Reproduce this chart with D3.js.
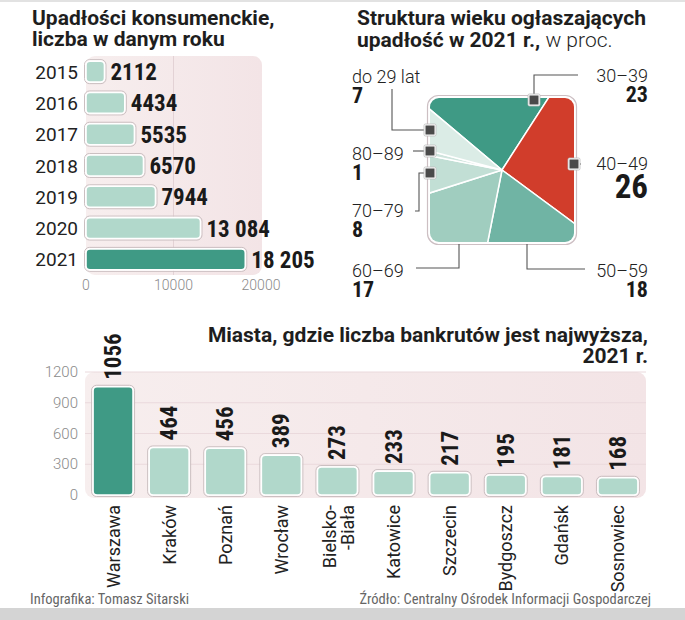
<!DOCTYPE html>
<html>
<head>
<meta charset="utf-8">
<script src="https://cdn.jsdelivr.net/npm/d3@7"></script>
<style>
  html, body { margin: 0; padding: 0; background: #fff; }
  svg { display: block; }
  .title { font-family: Roboto, "Noto Sans", sans-serif; font-weight: 700; font-size: 21px; fill: #1e1e1e; }
  .num { font-family: "Liberation Sans Narrow", "Roboto Condensed", "DejaVu Sans Condensed", sans-serif; font-weight: 700; fill: #1a1a1a; }
  .lab { font-family: Roboto, "Noto Sans", sans-serif; fill: #222; }
  .tick { font-family: Roboto, sans-serif; font-weight: 300; fill: #8a8a8a; }
  .foot { font-family: "Liberation Sans Narrow", "Roboto Condensed", sans-serif; font-size: 14.5px; fill: #666; }
</style>
</head>
<body>
<svg id="chart" width="685" height="620"></svg>
<script>
// ---------- DATA ----------
const years = ["2015", "2016", "2017", "2018", "2019", "2020", "2021"];
const bankruptcies = [2112, 4434, 5535, 6570, 7944, 13084, 18205];
const yearLabels = ["2112", "4434", "5535", "6570", "7944", "13 084", "18 205"];
const xTicksTop = [0, 10000, 20000];

const ageGroups = ["30–39", "40–49", "50–59", "60–69", "70–79", "80–89", "do 29 lat"];
const ageShares = [23, 26, 18, 17, 8, 1, 7];

const cities = ["Warszawa", "Kraków", "Poznań", "Wrocław", "Bielsko-Biała", "Katowice", "Szczecin", "Bydgoszcz", "Gdańsk", "Sosnowiec"];
const cityCounts = [1056, 464, 456, 389, 273, 233, 217, 195, 181, 168];
const yTicksBottom = [0, 300, 600, 900, 1200];

// ---------- SETUP ----------
const svg = d3.select("#chart");
const defs = svg.append("defs");

const grad = defs.append("linearGradient").attr("id", "panelGrad").attr("x1", "0").attr("x2", "1").attr("y1", "0").attr("y2", "0");
grad.append("stop").attr("offset", "0").attr("stop-color", "#f7eeee");
grad.append("stop").attr("offset", "1").attr("stop-color", "#f3e4e6");

const DARK = "#3f9a85", LIGHT = "#b1d8cb";

// top/bottom strips
svg.append("rect").attr("x", 0).attr("y", 0).attr("width", 685).attr("height", 2).attr("fill", "#e2e2e2");
svg.append("rect").attr("x", 0).attr("y", 608).attr("width", 685).attr("height", 12).attr("fill", "#d4d4d4");

function styledBar(g, x, y, w, h, fill) {
  g.append("rect").attr("x", x - 1.5).attr("y", y - 1.5).attr("width", w + 3).attr("height", h + 3)
    .attr("rx", 5).attr("fill", "none").attr("stroke", "#cbbfc1").attr("stroke-width", 1);
  g.append("rect").attr("x", x).attr("y", y).attr("width", w).attr("height", h)
    .attr("rx", 4).attr("fill", fill).attr("stroke", "#fff").attr("stroke-width", 1.6);
}

// ---------- LEFT: horizontal bars ----------
svg.append("text").attr("class", "title").attr("x", 32).attr("y", 25).text("Upadłości konsumenckie,");
svg.append("text").attr("class", "title").attr("x", 32).attr("y", 46).text("liczba w danym roku");

const xL = d3.scaleLinear().domain([0, 20000]).range([86, 261]);
const yL = d3.scaleBand().domain(years).range([56, 275]).paddingInner(0.33).paddingOuter(0.165);

svg.append("rect").attr("x", 86).attr("y", 56).attr("width", 176).attr("height", 219).attr("rx", 9).attr("fill", "url(#panelGrad)");
svg.append("line").attr("x1", xL(10000)).attr("x2", xL(10000)).attr("y1", 56).attr("y2", 275)
  .attr("stroke", "#e3d2d5").attr("stroke-width", 1);

const gL = svg.append("g");
years.forEach((yr, i) => {
  const y0 = yL(yr), bw = yL.bandwidth();
  styledBar(gL, xL(0), y0, xL(bankruptcies[i]) - xL(0), bw, i === years.length - 1 ? DARK : LIGHT);
  gL.append("text").attr("class", "lab").attr("x", 78).attr("y", y0 + bw / 2 + 7)
    .attr("text-anchor", "end").attr("font-size", 19).text(yr);
  gL.append("text").attr("class", "num").attr("x", xL(bankruptcies[i]) + 6).attr("y", y0 + bw / 2 + 8.5)
    .attr("font-size", 23).text(yearLabels[i]);
});
xTicksTop.forEach(t => {
  svg.append("text").attr("class", "tick").attr("x", xL(t)).attr("y", 290).attr("text-anchor", "middle")
    .attr("font-size", 14).text(t);
});

// ---------- RIGHT: square pie ----------
svg.append("text").attr("class", "title").attr("x", 357).attr("y", 25).text("Struktura wieku ogłaszających");
const tr2 = svg.append("text").attr("class", "title").attr("x", 357).attr("y", 47);
tr2.append("tspan").text("upadłość w 2021 r.,");
tr2.append("tspan").attr("font-weight", 300).text(" w proc.");

const cx = 502, cy = 170, half = 72;
const sqX = cx - half, sqY = cy - half, sqS = half * 2;
defs.append("clipPath").attr("id", "sqClip").append("rect")
  .attr("x", sqX).attr("y", sqY).attr("width", sqS).attr("height", sqS).attr("rx", 9);

const pieColors = ["#3f9a85", "#d13d2b", "#70b4a4", "#a0cdbf", "#c2dfd5", "#cfe4dd", "#dbece6"];
const pie = d3.pie().sort(null).startAngle(-50 * Math.PI / 180).endAngle(310 * Math.PI / 180);
const arcs = pie(ageShares);
const arc = d3.arc().innerRadius(0).outerRadius(200);

svg.append("rect").attr("x", sqX - 2.5).attr("y", sqY - 2.5).attr("width", sqS + 5).attr("height", sqS + 5)
  .attr("rx", 11).attr("fill", "#fff").attr("stroke", "#cdbfc3").attr("stroke-width", 1.2);
const gP = svg.append("g").attr("clip-path", "url(#sqClip)").append("g").attr("transform", `translate(${cx},${cy})`);
gP.selectAll("path").data(arcs).enter().append("path")
  .attr("d", arc).attr("fill", (d, i) => pieColors[i])
  .attr("stroke", "#fff").attr("stroke-width", 1.5).attr("stroke-linejoin", "round");

// callouts
const lineCol = "#555";
function poly(pts) {
  svg.append("polyline").attr("points", pts.map(p => p.join(",")).join(" "))
    .attr("fill", "none").attr("stroke", lineCol).attr("stroke-width", 1.1);
}
function marker(x, y) {
  svg.append("rect").attr("x", x - 6).attr("y", y - 6).attr("width", 12).attr("height", 12)
    .attr("rx", 1.5).attr("fill", "#fff").attr("stroke", "#bbb").attr("stroke-width", 0.8);
  svg.append("rect").attr("x", x - 4.5).attr("y", y - 4.5).attr("width", 9).attr("height", 9).attr("fill", "#4a4a4a");
}
function ageLabel(x, y, anchor, i, bigSize) {
  svg.append("text").attr("class", "lab").attr("x", x).attr("y", y).attr("text-anchor", anchor)
    .attr("font-size", 18).attr("font-weight", 300).attr("fill", "#222").text(ageGroups[i]);
  svg.append("text").attr("class", "num").attr("x", x).attr("y", y + (bigSize ? 28 : 20)).attr("text-anchor", anchor)
    .attr("font-size", bigSize || 22).text(ageShares[i]);
}
const L = sqX, R = sqX + sqS, T = sqY, B = sqY + sqS;

// do 29 lat
poly([[L, 130], [392, 130], [392, 89]]);
ageLabel(352, 83, "start", 6);
// 80-89
poly([[L, 151], [413, 151]]);
ageLabel(352, 160, "start", 5);
// 70-79
poly([[L, 173], [419, 173], [419, 211], [415, 211]]);
ageLabel(352, 217, "start", 4);
// 60-69
poly([[459, B + 2], [459, 268], [416, 268]]);
ageLabel(352, 277, "start", 3);
// 30-39
poly([[534, T], [534, 75], [578, 75]]);
ageLabel(648, 82, "end", 0);
// 40-49
poly([[R, 164], [581, 164]]);
ageLabel(648, 170, "end", 1, 33);
// 50-59
poly([[527, B + 2], [527, 269], [585, 269]]);
ageLabel(648, 277, "end", 2);

marker(L, 130); marker(L, 151); marker(L, 173); marker(534, T + 2); marker(R, 164);

// ---------- BOTTOM: vertical bars ----------
svg.append("text").attr("class", "title").attr("x", 648).attr("y", 342).attr("text-anchor", "end")
  .text("Miasta, gdzie liczba bankrutów jest najwyższa,");
svg.append("text").attr("class", "title").attr("x", 648).attr("y", 363).attr("text-anchor", "end").text("2021 r.");

const xB = d3.scaleBand().domain(cities).range([85, 646]).paddingInner(0.287).paddingOuter(0.1435);
const yB = d3.scaleLinear().domain([0, 1200]).range([495, 372]);

svg.append("rect").attr("x", 85).attr("y", 372).attr("width", 561).attr("height", 126).attr("rx", 9).attr("fill", "url(#panelGrad)");
yTicksBottom.forEach(t => {
  if (t > 0) svg.append("line").attr("x1", 85).attr("x2", 646).attr("y1", yB(t)).attr("y2", yB(t))
    .attr("stroke", "#ead9dc").attr("stroke-width", 1);
  svg.append("text").attr("class", "tick").attr("x", 78).attr("y", yB(t) + 5).attr("text-anchor", "end")
    .attr("font-size", 15).text(t);
});

const gB = svg.append("g");
cities.forEach((c, i) => {
  const x0 = xB(c), bw = xB.bandwidth(), xc = x0 + bw / 2;
  styledBar(gB, x0, yB(cityCounts[i]), bw, yB(0) - yB(cityCounts[i]), i === 0 ? DARK : LIGHT);
  gB.append("text").attr("class", "num").attr("font-size", 23)
    .attr("transform", `translate(${xc + 8},${yB(cityCounts[i]) - 7}) rotate(-90)`)
    .text(cityCounts[i]);
  const lab = gB.append("text").attr("class", "lab").attr("font-size", 18).attr("text-anchor", "end")
    .attr("transform", `translate(${xc},505) rotate(-90)`);
  if (c.indexOf("-") > 0) {
    const parts = c.split("-");
    lab.append("tspan").attr("x", 0).attr("y", -1).text(parts[0] + "-");
    lab.append("tspan").attr("x", 0).attr("y", 17).text("-" + parts[1]);
  } else {
    lab.append("tspan").attr("x", 0).attr("y", 6.5).text(c);
  }
});

// ---------- FOOTER ----------
svg.append("text").attr("class", "foot").attr("x", 30).attr("y", 604).text("Infografika: Tomasz Sitarski");
svg.append("text").attr("class", "foot").attr("x", 651).attr("y", 604).attr("text-anchor", "end")
  .text("Źródło: Centralny Ośrodek Informacji Gospodarczej");
</script>
</body>
</html>
